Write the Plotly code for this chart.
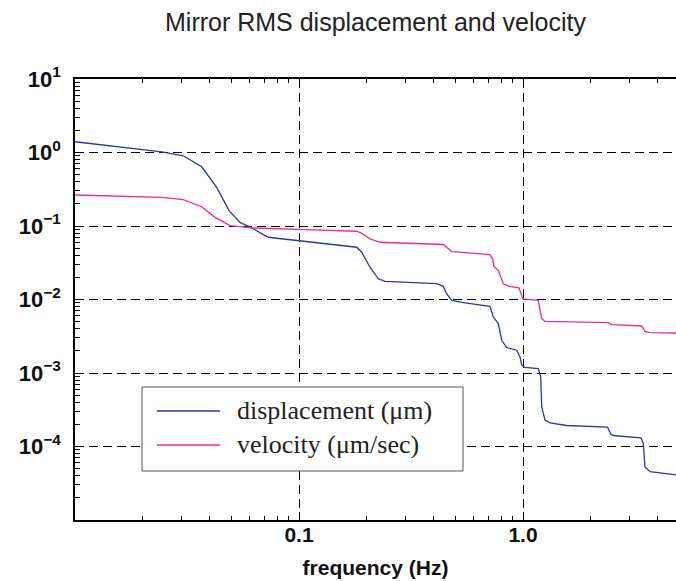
import math
import plotly.graph_objects as go

# ---- data ----
freq_disp = [0.0100, 0.0244, 0.0304, 0.0368, 0.0429, 0.0487, 0.0545, 0.0615, 0.0729, 0.1063,
             0.181, 0.1905, 0.2075, 0.226, 0.242, 0.412, 0.4406, 0.456, 0.4806, 0.5415,
             0.712, 0.737, 0.776, 0.8035, 0.845, 0.937, 0.970, 0.9867, 1.021, 1.170,
             1.20, 1.212, 1.254, 1.320, 1.567, 2.384, 2.471, 2.575, 3.364, 3.444,
             3.504, 3.69, 4.82]
disp = [1.40, 1.02, 0.902, 0.640, 0.335, 0.162, 0.112, 0.0942, 0.0703, 0.0614,
        0.0514, 0.0440, 0.0275, 0.0191, 0.0176, 0.0164, 0.0151, 0.0120, 0.00972, 0.00905,
        0.00806, 0.00577, 0.00470, 0.00279, 0.00222, 0.00204, 0.00165, 0.00128, 0.00119, 0.00115,
        0.000885, 0.000347, 0.000229, 0.000210, 0.000193, 0.000183, 0.000146, 0.000140, 0.000131, 0.000110,
        0.0000527, 0.0000455, 0.0000410]

freq_vel = [0.0100, 0.0244, 0.0304, 0.0368, 0.0422, 0.0492, 0.0615, 0.0781, 0.1063, 0.181,
            0.1905, 0.2075, 0.230, 0.4406, 0.456, 0.4806, 0.712, 0.732, 0.742, 0.776,
            0.817, 0.860, 0.959, 0.9795, 1.0, 1.170, 1.212, 1.254, 2.40, 2.489,
            3.388, 3.504, 3.69, 4.82]
vel = [0.264, 0.245, 0.228, 0.183, 0.131, 0.1013, 0.0942, 0.0913, 0.0893, 0.0848,
       0.0796, 0.0668, 0.0601, 0.0560, 0.0514, 0.0449, 0.0409, 0.0358, 0.0281, 0.0248,
       0.0164, 0.0152, 0.01436, 0.0120, 0.0102, 0.00972, 0.00549, 0.00505, 0.00484, 0.00455,
       0.00436, 0.00369, 0.00355, 0.00350]

x_tick_vals = [0.1, 1.0]
x_tick_text = ["0.1", "1.0"]
y_tick_vals = [10, 1, 0.1, 0.01, 0.001, 0.0001]
y_tick_text = ["10<sup>1</sup>", "10<sup>0</sup>", "10<sup>\u22121</sup>",
               "10<sup>\u22122</sup>", "10<sup>\u22123</sup>", "10<sup>\u22124</sup>"]
series_names = ["displacement (\u03bcm)", "velocity (\u03bcm/sec)"]
series_colors = ["#30389a", "#ee2d8e"]

x_min, x_max = 0.01, 4.82
y_min, y_max = 1e-5, 1e1

x_minor = [k * 10 ** e for e in (-2, -1, 0) for k in range(2, 10) if k * 10 ** e <= x_max]
y_minor = [k * 10.0 ** e for e in range(-5, 1) for k in range(2, 10)]

fig = go.Figure()
fig.add_trace(go.Scatter(x=freq_disp, y=disp, mode="lines", name=series_names[0],
                         line=dict(color=series_colors[0], width=1.3)))
fig.add_trace(go.Scatter(x=freq_vel, y=vel, mode="lines", name=series_names[1],
                         line=dict(color=series_colors[1], width=1.3)))

x_font = dict(family="Liberation Sans", size=21, color="#111111", weight="bold")
y_font = dict(family="Liberation Sans", size=22, color="#111111", weight="bold")

fig.update_xaxes(
    type="log", range=[math.log10(x_min), math.log10(x_max)],
    tickmode="array", tickvals=x_tick_vals, ticktext=x_tick_text,
    ticks="inside", ticklen=8, tickcolor="black", tickwidth=1,
    showline=True, linecolor="black", linewidth=1.5, mirror="ticks",
    showgrid=True, gridcolor="black", gridwidth=1, griddash="9px,5px",
    tickfont=x_font, ticklabelstandoff=-5,
    minor=dict(tickmode="array", tickvals=x_minor, ticks="inside", ticklen=4,
               tickcolor="black", tickwidth=1, showgrid=False),
    title=dict(text="frequency (Hz)", font=x_font, standoff=15),
    zeroline=False,
)
fig.update_yaxes(
    type="log", range=[math.log10(y_min), math.log10(y_max)],
    tickmode="array", tickvals=y_tick_vals, ticktext=y_tick_text,
    ticks="inside", ticklen=8, tickcolor="black", tickwidth=1,
    showline=True, linecolor="black", linewidth=1.5, mirror=False,
    showgrid=True, gridcolor="black", gridwidth=1, griddash="9px,5px",
    tickfont=y_font, ticklabelstandoff=8,
    minor=dict(tickmode="array", tickvals=y_minor, ticks="inside", ticklen=5,
               tickcolor="black", tickwidth=1, showgrid=False),
    zeroline=False,
)

# ---- legend box drawn in paper coordinates ----
box = dict(x0=0.1115, x1=0.6456, y0=0.1111, y1=0.3016)
row_y = [0.2472, 0.1701]
fig.add_shape(type="rect", xref="paper", yref="paper", layer="above",
              x0=box["x0"], x1=box["x1"], y0=box["y0"], y1=box["y1"],
              line=dict(color="#555555", width=1), fillcolor="white")
for name, color, yy in zip(series_names, series_colors, row_y):
    fig.add_shape(type="line", xref="paper", yref="paper", layer="above",
                  x0=0.1364, x1=0.2413, y0=yy, y1=yy,
                  line=dict(color=color, width=1.3))
    fig.add_annotation(xref="paper", yref="paper", x=0.2662, y=yy, text=name,
                       showarrow=False, xanchor="left", yanchor="middle",
                       font=dict(family="Liberation Serif", size=26, color="#222222"))

fig.update_layout(
    width=676, height=581,
    margin=dict(l=75, r=0, t=79, b=61, pad=0),
    paper_bgcolor="white", plot_bgcolor="white",
    showlegend=False,
    title=dict(text="Mirror RMS displacement and velocity", x=0.5, xref="paper",
               xanchor="center", y=1 - 22 / 581, yanchor="middle",
               font=dict(family="Liberation Sans", size=25, color="#222222")),
)

fig.write_html("out.html")
